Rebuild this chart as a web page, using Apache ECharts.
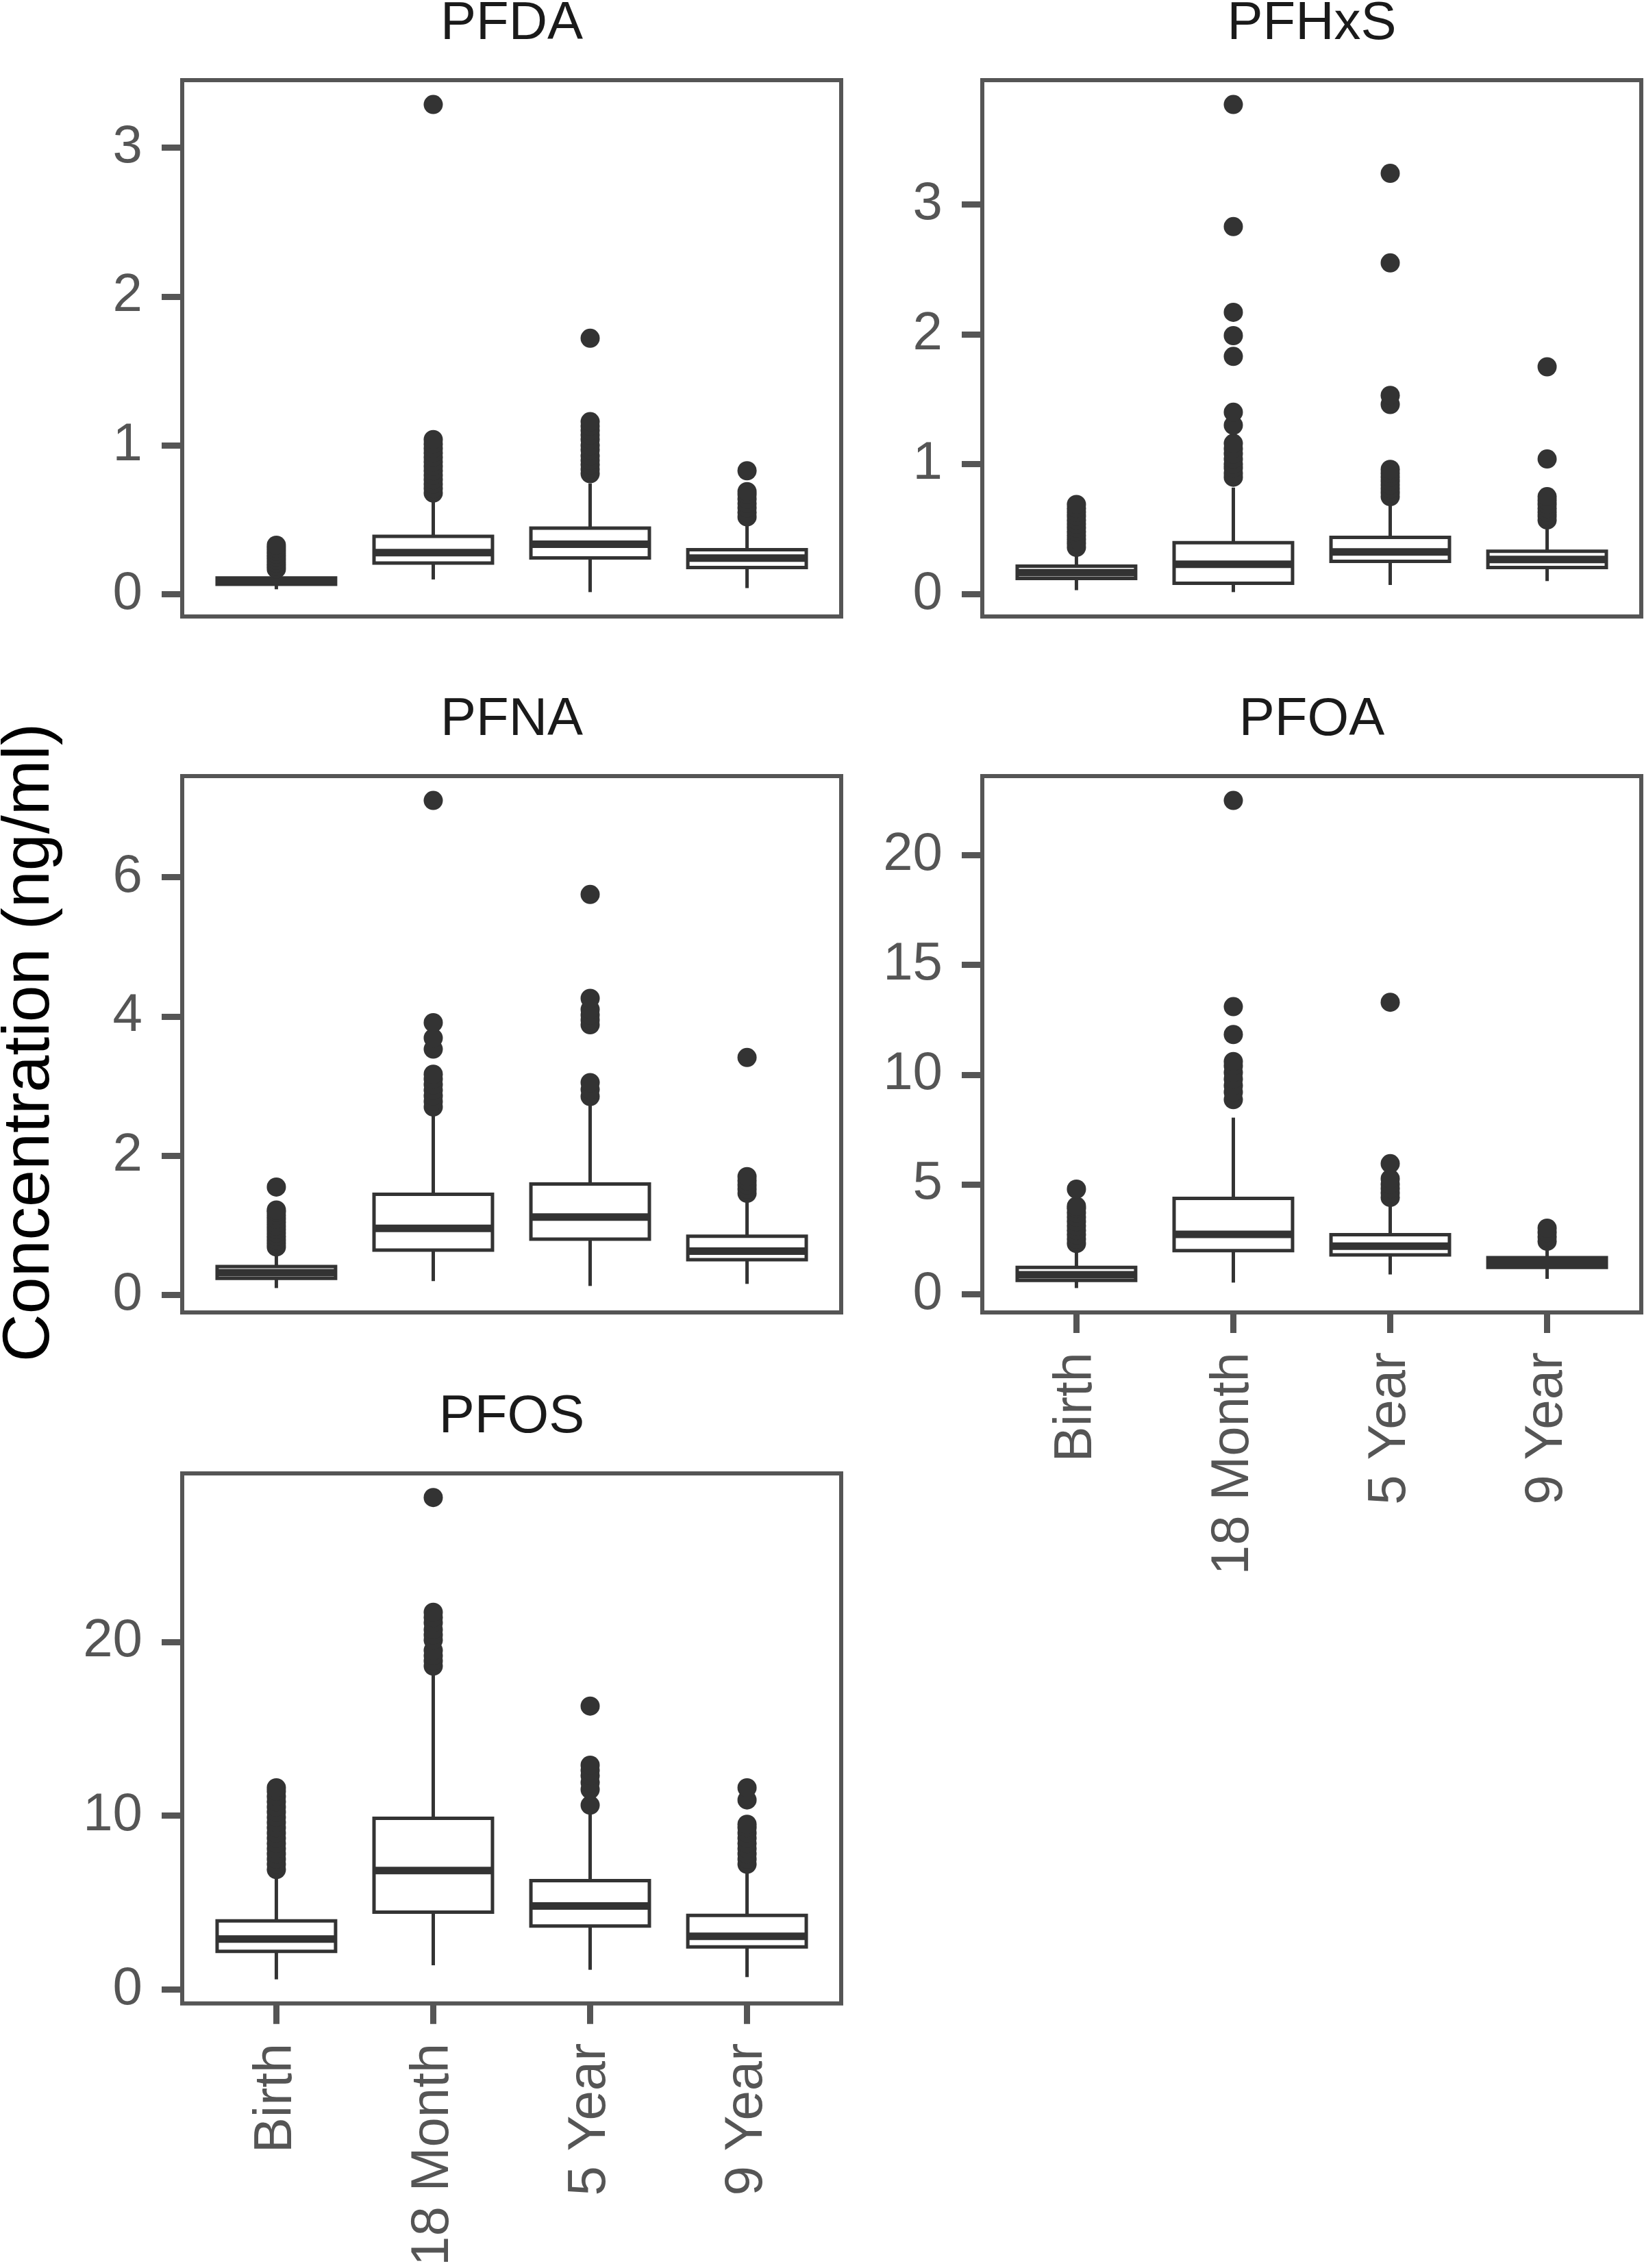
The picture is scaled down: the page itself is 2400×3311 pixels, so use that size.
<!DOCTYPE html>
<html>
<head>
<meta charset="utf-8">
<script src="https://cdn.jsdelivr.net/npm/echarts@6/dist/echarts.min.js"></script>
<style>
html,body{margin:0;padding:0;background:#fff;}
#chart{width:2400px;height:3311px;}
</style>
</head>
<body>
<div id="chart"></div>
<script>
// ---------- data ----------
const categories = ['Birth', '18 Month', '5 Year', '9 Year'];
const compounds = ['PFDA', 'PFHxS', 'PFNA', 'PFOA', 'PFOS'];

// box stats per category: [lower whisker, Q1, median, Q3, upper whisker]
const pfdaBox = [[0.034,0.068,0.09,0.11,0.16],[0.10,0.21,0.28,0.39,0.65],[0.015,0.245,0.337,0.445,0.745],[0.042,0.18,0.243,0.30,0.49]];
const pfdaOut = [[0.17,0.19,0.21,0.23,0.25,0.27,0.29,0.31,0.33],[0.68,0.71,0.74,0.77,0.80,0.83,0.86,0.89,0.92,0.95,0.98,1.01,1.04,3.29],[0.81,0.84,0.87,0.90,0.93,0.97,1.00,1.04,1.07,1.10,1.13,1.16,1.72],[0.52,0.55,0.58,0.61,0.64,0.67,0.69,0.83]];
const pfdaTicks = [0,1,2,3];

const pfhxsBox = [[0.03,0.12,0.165,0.215,0.31],[0.015,0.083,0.23,0.396,0.82],[0.07,0.252,0.325,0.436,0.685],[0.10,0.205,0.267,0.33,0.50]];
const pfhxsOut = [[0.36,0.39,0.42,0.45,0.48,0.51,0.54,0.57,0.60,0.63,0.66,0.69],[0.90,0.93,0.97,1.00,1.04,1.08,1.12,1.16,1.30,1.40,1.83,1.99,2.17,2.83,3.77],[0.75,0.78,0.81,0.84,0.87,0.90,0.93,0.96,1.46,1.53,2.55,3.24],[0.57,0.60,0.63,0.66,0.69,0.72,0.75,1.04,1.75]];
const pfhxsTicks = [0,1,2,3];

const pfnaBox = [[0.10,0.24,0.32,0.41,0.57],[0.20,0.644,0.957,1.447,2.58],[0.13,0.803,1.12,1.595,2.73],[0.16,0.508,0.63,0.845,1.40]];
const pfnaOut = [[0.69,0.74,0.79,0.84,0.89,0.94,0.99,1.04,1.09,1.14,1.19,1.22,1.55],[2.70,2.78,2.86,2.94,3.02,3.10,3.17,3.53,3.69,3.91,7.10],[2.85,2.95,3.05,3.88,3.95,4.02,4.10,4.26,5.75],[1.46,1.52,1.58,1.64,1.70,3.41]];
const pfnaTicks = [0,2,4,6];

const pfoaBox = [[0.27,0.62,0.88,1.21,1.93],[0.52,1.98,2.72,4.36,8.04],[0.89,1.78,2.18,2.70,4.16],[0.69,1.21,1.45,1.66,2.18]];
const pfoaOut = [[2.3,2.5,2.7,2.9,3.1,3.3,3.5,3.7,3.9,4.0,4.78],[8.86,9.2,9.5,9.8,10.1,10.4,10.6,11.83,13.1,22.5],[4.4,4.6,4.8,5.0,5.25,5.94,13.3],[2.4,2.6,2.8,3.0]];
const pfoaTicks = [0,5,10,15,20];

const pfosBox = [[0.58,2.19,2.9,3.94,6.39],[1.39,4.45,6.84,9.84,18.06],[1.13,3.65,4.8,6.26,10.16],[0.71,2.45,3.06,4.26,6.77]];
const pfosOut = [[6.9,7.2,7.5,7.8,8.1,8.4,8.7,9.0,9.3,9.6,9.9,10.2,10.5,10.8,11.1,11.4,11.6],[18.6,18.9,19.2,19.5,20.1,20.4,20.7,21.1,21.4,21.7,28.3],[10.6,11.5,11.9,12.3,12.6,12.9,16.3],[7.2,7.5,7.8,8.1,8.4,8.7,9.0,9.3,9.5,10.9,11.6]];
const pfosTicks = [0,10,20];

const yTitle = 'Concentration (ng/ml)';

// ---------- layout / style ----------
const boxes = [pfdaBox, pfhxsBox, pfnaBox, pfoaBox, pfosBox];
const outs = [pfdaOut, pfhxsOut, pfnaOut, pfoaOut, pfosOut];
const ticks = [pfdaTicks, pfhxsTicks, pfnaTicks, pfoaTicks, pfosTicks];
const panelPos = [
  {left:266, top:117, showX:false},
  {left:1434, top:117, showX:false},
  {left:266, top:1133, showX:false},
  {left:1434, top:1133, showX:true},
  {left:266, top:2151, showX:true}
];
const PW = 962, PH = 783;
const FONT = '"Liberation Sans", Arial, Helvetica, sans-serif';
const AX_COL = '#555555';
const TXT_COL = '#555555';
const BOX_COL = '#333333';
const BOX_W = 0.755;

function renderBox(params, api) {
  const x = api.value(0);
  const pLo = api.coord([x, api.value(1)]);
  const pQ1 = api.coord([x, api.value(2)]);
  const pMed = api.coord([x, api.value(3)]);
  const pQ3 = api.coord([x, api.value(4)]);
  const pHi = api.coord([x, api.value(5)]);
  const hw = api.size([BOX_W, 0])[0] / 2;
  const cx = pMed[0];
  const st = {stroke: BOX_COL, lineWidth: 5, fill: null};
  return {
    type: 'group',
    children: [
      {type:'line', shape:{x1:cx, y1:pLo[1], x2:cx, y2:pQ1[1]}, style: st},
      {type:'line', shape:{x1:cx, y1:pQ3[1], x2:cx, y2:pHi[1]}, style: st},
      {type:'rect', shape:{x:cx-hw, y:pQ3[1], width:2*hw, height:pQ1[1]-pQ3[1]}, style:{stroke:BOX_COL, lineWidth:5, fill:'#ffffff'}},
      {type:'line', shape:{x1:cx-hw, y1:pMed[1], x2:cx+hw, y2:pMed[1]}, style:{stroke:BOX_COL, lineWidth:11}}
    ]
  };
}

const grid = [], xAxis = [], yAxis = [], series = [], graphic = [];
compounds.forEach((name, i) => {
  const p = panelPos[i];
  grid.push({left:p.left, top:p.top, width:PW, height:PH, show:true, borderColor:AX_COL, borderWidth:6, backgroundColor:'#fff', containLabel:false});
  // y range: data range expanded by 5% each side
  let lo = Infinity, hi = -Infinity;
  boxes[i].forEach(b => { lo = Math.min(lo, b[0]); hi = Math.max(hi, b[4]); });
  outs[i].forEach(o => o.forEach(v => { lo = Math.min(lo, v); hi = Math.max(hi, v); }));
  const pad = (hi - lo) * 0.05;
  xAxis.push({
    type:'value', gridIndex:i, min:0.4, max:4.6, position:'bottom',
    axisLine:{show:false, onZero:false}, splitLine:{show:false},
    axisTick:{show:p.showX, length:30, customValues:[1,2,3,4], lineStyle:{color:AX_COL, width:9}},
    axisLabel:{show:p.showX, customValues:[1,2,3,4], rotate:90, margin:58, fontSize:78, fontFamily:FONT, color:TXT_COL,
      formatter: v => categories[Math.round(v) - 1] || ''}
  });
  yAxis.push({
    type:'value', gridIndex:i, min:lo - pad, max:hi + pad, position:'left',
    axisLine:{show:false, onZero:false}, splitLine:{show:false},
    axisTick:{show:true, length:30, customValues:ticks[i], lineStyle:{color:AX_COL, width:9}},
    axisLabel:{show:true, customValues:ticks[i], margin:58, fontSize:78, fontFamily:FONT, color:TXT_COL,
      formatter: v => String(v)}
  });
  series.push({
    type:'custom', xAxisIndex:i, yAxisIndex:i, renderItem: renderBox,
    encode:{x:0, y:[1,2,3,4,5]},
    data: boxes[i].map((b, k) => [k + 1].concat(b)),
    z: 2
  });
  const pts = [];
  outs[i].forEach((arr, k) => arr.forEach(v => pts.push([k + 1, v])));
  series.push({
    type:'scatter', xAxisIndex:i, yAxisIndex:i, data: pts,
    symbol:'circle', symbolSize:28, itemStyle:{color:BOX_COL, opacity:1}, z:3, silent:true
  });
  graphic.push({
    type:'text', x: p.left + PW/2, y: p.top - 82,
    style:{text:name, font:'78px ' + FONT, fill:'#1a1a1a', align:'center', verticalAlign:'middle'}
  });
});
graphic.push({
  type:'text', x:44, y:1522, rotation: Math.PI/2,
  style:{text:yTitle, font:'97px ' + FONT, fill:'#000', align:'center', verticalAlign:'middle'}
});

const chart = echarts.init(document.getElementById('chart'), null, {renderer:'canvas', width:2400, height:3311});
chart.setOption({
  backgroundColor:'#ffffff',
  animation:false,
  grid, xAxis, yAxis, series, graphic
});
</script>
</body>
</html>
